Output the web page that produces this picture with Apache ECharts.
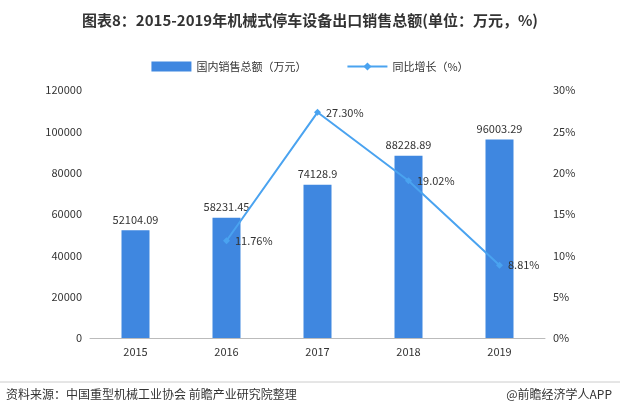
<!DOCTYPE html>
<html>
<head>
<meta charset="utf-8">
<script src="https://cdn.jsdelivr.net/npm/echarts@6/dist/echarts.min.js"></script>
<style>
  html, body { margin: 0; padding: 0; background: #fff; }
  #chart { width: 620px; height: 416px; }
</style>
</head>
<body>
<div id="chart"></div>
<script>
var years = ['2015', '2016', '2017', '2018', '2019'];
var sales = [52104.09, 58231.45, 74128.9, 88228.89, 96003.29];
var growth = [null, 11.76, 27.30, 19.02, 8.81];

var chart = echarts.init(document.getElementById('chart'));
var font = '"Noto Sans CJK SC", sans-serif';

var option = {
  textStyle: { fontFamily: font },
  title: {
    text: '图表8：2015-2019年机械式停车设备出口销售总额(单位：万元，%)',
    left: 'center',
    top: 8,
    textStyle: { fontSize: 15, fontWeight: 'bold', color: '#333', fontFamily: font }
  },
  legend: {
    top: 56,
    itemGap: 40,
    itemWidth: 40,
    itemHeight: 10,
    textStyle: { fontSize: 11, color: '#333' },
    data: [
      { name: '国内销售总额（万元）', icon: 'rect' },
      { name: '同比增长（%）' }
    ]
  },
  grid: { left: 90, right: 75, top: 90, bottom: 78 },
  xAxis: {
    type: 'category',
    data: years,
    axisLine: { lineStyle: { color: '#bbb' } },
    axisTick: { show: false },
    axisLabel: { color: '#333', fontSize: 11 }
  },
  yAxis: [{
    type: 'value',
    min: 0, max: 120000, interval: 20000,
    axisLine: { show: false },
    axisTick: { show: false },
    splitLine: { show: false },
    axisLabel: { color: '#333', fontSize: 11, formatter: function (v) { return String(v); } }
  }, {
    type: 'value',
    min: 0, max: 30, interval: 5,
    axisLine: { show: false },
    axisTick: { show: false },
    splitLine: { show: false },
    axisLabel: { color: '#333', fontSize: 11, formatter: '{value}%' }
  }],
  series: [{
    name: '国内销售总额（万元）',
    type: 'bar',
    data: sales,
    barWidth: 28,
    itemStyle: { color: '#3f87e0' },
    label: { show: true, position: 'top', color: '#333', fontSize: 11 }
  }, {
    name: '同比增长（%）',
    type: 'line',
    yAxisIndex: 1,
    data: growth,
    symbol: 'diamond',
    symbolSize: 7,
    lineStyle: { color: '#4aa3f0', width: 2 },
    itemStyle: { color: '#4aa3f0' },
    label: {
      show: true, position: 'right', color: '#333', fontSize: 11,
      formatter: function (p) { return p.value.toFixed(2) + '%'; }
    }
  }],
  graphic: [
    { type: 'line', shape: { x1: 0, y1: 382, x2: 620, y2: 382 }, style: { stroke: '#ccc', lineWidth: 1 } },
    { type: 'text', left: 6, top: 388, style: { text: '资料来源：中国重型机械工业协会 前瞻产业研究院整理', fill: '#333', fontSize: 12, fontFamily: font } },
    { type: 'text', right: 8, top: 388, style: { text: '@前瞻经济学人APP', fill: '#333', fontSize: 12, fontFamily: font } }
  ]
};
chart.setOption(option);
</script>
</body>
</html>
